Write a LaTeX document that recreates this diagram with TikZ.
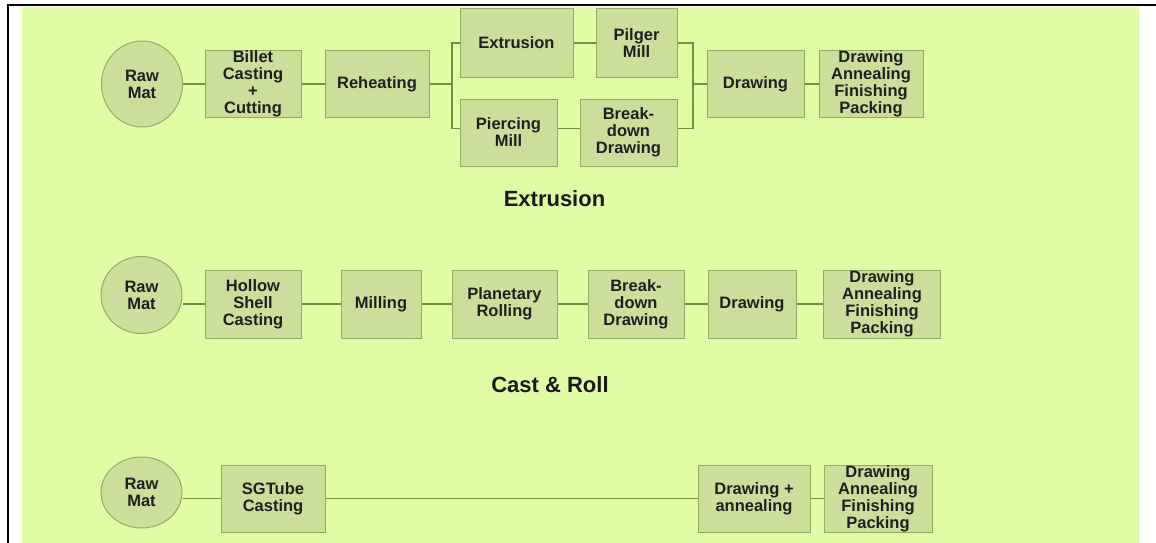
\documentclass[tikz,border=0pt]{standalone}
\usepackage{fontspec}
\setmainfont{Liberation Sans}
\usepackage{xcolor}
\usetikzlibrary{shapes,arrows.meta,positioning,calc}

\definecolor{bgGreen}{HTML}{E0FCA5}
\definecolor{boxGreen}{HTML}{CCDF9A}
\definecolor{edgeGreen}{HTML}{8FAC62}
\definecolor{lineGreen}{HTML}{728F45}

\tikzset{
  stage/.style={draw=edgeGreen, fill=boxGreen, line width=1pt, rectangle,
    minimum height=67pt, inner sep=0pt, align=center, text=black!88,
    font=\fontsize{16.5}{17}\selectfont\bfseries},
  rawmat/.style={stage, ellipse, minimum width=81pt},
  link/.style={draw=lineGreen, line width=1.8pt},
  title/.style={font=\fontsize{22}{24}\selectfont\bfseries, text=black!90}
}

\begin{document}
\begin{tikzpicture}[x=1pt, y=-1pt]
\useasboundingbox (0,0) rectangle (1156,543);
\fill[white] (0,0) rectangle (1156,543);
\fill[bgGreen] (22,7) rectangle (1139,543);
\draw[black, line width=2.5pt] (8,543) -- (8,5) -- (1156,5);

% Extrusion route
\node[rawmat, minimum height=86pt] (raw1) at (142,84) {Raw\\Mat};
\node[stage, minimum width=96pt] (billet) at (253,84) {Billet\\Casting\\+\\Cutting};
\node[stage, minimum width=104pt] (reheat) at (377,84) {Reheating};
\node[stage, minimum width=113pt, minimum height=68pt] (extr) at (516.5,43) {Extrusion};
\node[stage, minimum width=81pt, minimum height=68pt] (pilger) at (636.5,43) {Pilger\\Mill};
\node[stage, minimum width=97pt] (pierce) at (508.5,132.5) {Piercing\\Mill};
\node[stage, minimum width=97pt] (bkdown1) at (628.5,132.5) {Break-\\down\\Drawing};
\node[stage, minimum width=97pt, minimum height=66pt] (draw1) at (755.5,84) {Drawing};
\node[stage, minimum width=104pt] (finish1) at (871,84) {Drawing\\Annealing\\Finishing\\Packing};
\coordinate (split) at (452,84);
\coordinate (merge) at (693,84);

\draw[link] (raw1) -- (billet);
\draw[link] (billet) -- (reheat);
\draw[link] (reheat.east) -- (split);
\draw[link] (extr.west) -| (split) |- ([yshift=4pt]pierce.west);
\draw[link] (extr) -- (pilger);
\draw[link] ([yshift=4pt]pierce.east) -- ([yshift=4pt]bkdown1.west);
\draw[link] (pilger.east) -| (merge) |- ([yshift=4pt]bkdown1.east);
\draw[link] (merge) -- (draw1.west);
\draw[link] (draw1) -- (finish1);

\node[title] (tExtr) at (554.5,199) {Extrusion};

% Cast & Roll route
\node[rawmat, minimum height=77pt] (raw2) at (141.5,295) {Raw\\Mat};
\foreach \name/\x/\w/\txt in {hollow/253/96/{Hollow\\Shell\\Casting}, mill/381/80/Milling,
    planet/504.5/105/{Planetary\\Rolling}, bkdown2/636/96/{Break-\\down\\Drawing},
    draw2/752/88/Drawing, finish2/882/117/{Drawing\\Annealing\\Finishing\\Packing}} {
    \node[stage, minimum width=\w pt, minimum height=68pt] (\name) at (\x,304) {\txt};
}
\draw[link] (hollow.west) -- (raw2.east |- hollow.west);
\foreach \a/\b in {hollow/mill, mill/planet, planet/bkdown2, bkdown2/draw2, draw2/finish2}
    \draw[link] (\a) -- (\b);

\node[title] (tCast) at (550,385) {Cast \& Roll};

% SGTube route
\node[rawmat, minimum height=71pt] (raw3) at (141.5,492.5) {Raw\\Mat};
\node[stage, minimum width=104pt] (sgtube) at (273,498.5) {SGTube\\Casting};
\node[stage, minimum width=112pt] (drawann) at (754,498.5) {Drawing +\\annealing};
\node[stage, minimum width=108pt] (finish3) at (878,498.5) {Drawing\\Annealing\\Finishing\\Packing};

\draw[link] (sgtube.west) -- (raw3.east |- sgtube.west);
\draw[link] (sgtube) -- (drawann);
\draw[link] (drawann) -- (finish3);
\end{tikzpicture}
\end{document}
